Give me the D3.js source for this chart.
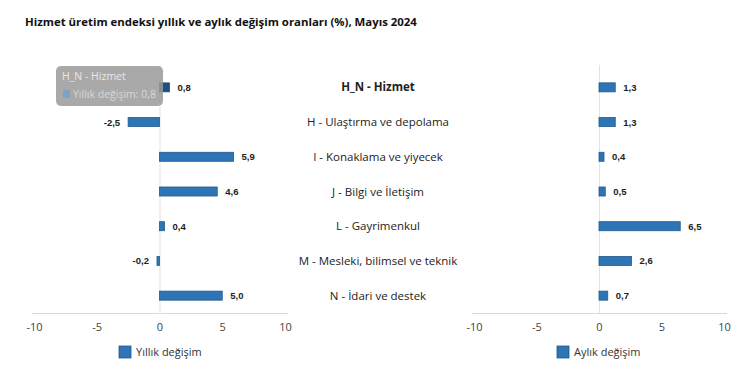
<!DOCTYPE html>
<html><head><meta charset="utf-8">
<script src="https://cdn.jsdelivr.net/npm/d3@7"></script>
<style>body{margin:0;background:#fff}svg{display:block}</style>
</head><body><svg id="c" width="750" height="382"></svg>
<script>
const categories = ["H_N - Hizmet","H - Ulaştırma ve depolama","I - Konaklama ve yiyecek","J - Bilgi ve İletişim","L - Gayrimenkul","M - Mesleki, bilimsel ve teknik","N - İdari ve destek"];
const yillik = [0.8,-2.5,5.9,4.6,0.4,-0.2,5.0];
const aylik = [1.3,1.3,0.4,0.5,6.5,2.6,0.7];
const ticks = [-10,-5,0,5,10];
const seriesNames = ["Yıllık değişim","Aylık değişim"];
const title = "Hizmet üretim endeksi yıllık ve aylık değişim oranları (%), Mayıs 2024";

const svg = d3.select("#c");
const font = "'Open Sans', 'Noto Sans', sans-serif";
svg.append("text").attr("x",25).attr("y",26).attr("font-family",font).attr("font-weight","bold")
  .attr("font-size",11.4).attr("fill","#111").text(title);

const y = d3.scaleBand().domain(categories).range([70,313]).paddingInner(0.74).paddingOuter(0.37);
const fmt = v => v.toFixed(1).replace(".",",");

function panel(x0,x1,data,name,legendX,hoverIdx){
  const x = d3.scaleLinear().domain([-10,10]).range([x0,x1]);
  const g = svg.append("g");
  g.append("line").attr("x1",x0-2).attr("x2",x1+3).attr("y1",313.5).attr("y2",313.5).attr("stroke","#d9d9d9");
  g.append("line").attr("x1",x(0)+0.5).attr("x2",x(0)+0.5).attr("y1",65).attr("y2",313).attr("stroke","#e3e3e3");
  const ax = g.append("g").attr("transform","translate(0,313)")
    .call(d3.axisBottom(x).tickValues(ticks).tickSize(0).tickPadding(10).tickFormat(d=>d));
  ax.select(".domain").remove();
  ax.selectAll("text").attr("font-family",font).attr("font-size",11).attr("fill","#444");
  g.selectAll("rect.bar").data(data).join("rect").attr("class","bar")
    .attr("x",d=>x(Math.min(0,d))).attr("width",d=>Math.abs(x(d)-x(0)))
    .attr("y",(d,i)=>y(categories[i])).attr("height",y.bandwidth())
    .attr("fill",(d,i)=>i===hoverIdx?"#1f4f7e":"#2e75b6").attr("stroke","#22598c").attr("stroke-width",0.8);
  g.selectAll("text.val").data(data).join("text").attr("class","val")
    .attr("x",d=>d>=0?x(d)+8:x(d)-8).attr("text-anchor",d=>d>=0?"start":"end")
    .attr("y",(d,i)=>y(categories[i])+y.bandwidth()/2+3.5)
    .attr("font-family","'Liberation Sans', Arial, sans-serif").attr("font-weight","bold").attr("font-size",9.5).attr("fill","#222")
    .text(fmt);
  g.append("rect").attr("x",legendX).attr("y",346).attr("width",12).attr("height",12).attr("fill","#2e75b6").attr("stroke","#22598c").attr("stroke-width",0.8);
  g.append("text").attr("x",legendX+17).attr("y",356).attr("font-family",font).attr("font-size",11).attr("fill","#333").text(name);
  return x;
}
panel(34,285,yillik,seriesNames[0],119,0);
panel(474,724,aylik,seriesNames[1],557,-1);

svg.selectAll("text.cat").data(categories).join("text").attr("class","cat")
  .attr("x",378).attr("text-anchor","middle").attr("y",d=>y(d)+y.bandwidth()/2+4)
  .attr("font-family",font).attr("font-size",11.5).attr("fill","#222")
  .attr("font-weight",(d,i)=>i===0?"bold":"normal").text(d=>d);

// tooltip
const tt = svg.append("g");
tt.append("rect").attr("x",56).attr("y",66).attr("width",107).attr("height",40).attr("rx",5)
  .attr("fill","#9a9a9a").attr("opacity",0.85);
tt.append("text").attr("x",62).attr("y",80).attr("font-family",font).attr("font-size",10.5).attr("fill","#e8e8e8").text("H_N - Hizmet");
tt.append("rect").attr("x",63).attr("y",90).attr("width",7).attr("height",8).attr("fill","#7fa3c6");
tt.append("text").attr("x",73).attr("y",98).attr("font-family",font).attr("font-size",10.5).attr("fill","#d8d8d8").text(seriesNames[0]+": "+fmt(yillik[0]));
</script></body></html>
